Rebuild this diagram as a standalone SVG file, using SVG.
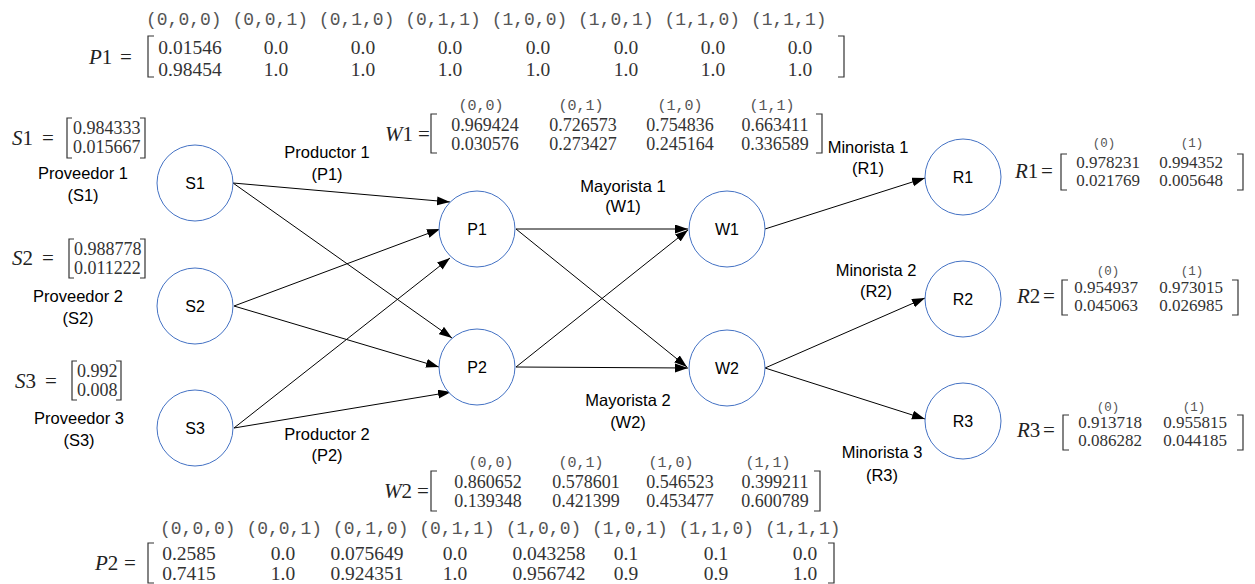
<svg xmlns="http://www.w3.org/2000/svg" width="1255" height="584" viewBox="0 0 1255 584">
  <style>
    .node circle { fill: #ffffff; stroke: #4472c4; stroke-width: 1; }
    .node text { font-family: "Liberation Sans", Arial, sans-serif; font-size: 16px; fill: #000; text-anchor: middle; }
    .lbl { font-family: "Liberation Sans", Arial, sans-serif; font-size: 16.5px; fill: #000; text-anchor: middle; }
    .edge { stroke: #000; stroke-width: 1; fill: none; marker-end: url(#arrow); }
    .eq { font-family: "Liberation Serif", "Times New Roman", serif; font-size: 21px; fill: #222; }
    .eq tspan.v { font-style: italic; }
    .num { font-family: "Liberation Serif", "Times New Roman", serif; font-size: 19.5px; fill: #333; text-anchor: middle; }
    .num18 { font-family: "Liberation Serif", "Times New Roman", serif; font-size: 18px; fill: #333; text-anchor: middle; }
    .num17 { font-family: "Liberation Serif", "Times New Roman", serif; font-size: 17px; fill: #333; text-anchor: middle; }
    .vec { font-family: "Liberation Serif", "Times New Roman", serif; font-size: 18px; fill: #333; }
    .hdr { font-family: "Liberation Mono", "Courier New", monospace; font-size: 18px; fill: #555; }
    .hdr15 { font-family: "Liberation Mono", "Courier New", monospace; font-size: 15px; fill: #555; text-anchor: middle; }
    .hdr12 { font-family: "Liberation Mono", "Courier New", monospace; font-size: 12.5px; fill: #555; text-anchor: middle; }
    .brk { stroke: #333; stroke-width: 1.2; fill: none; }
  </style>
  <defs>
    <marker id="arrow" markerUnits="userSpaceOnUse" markerWidth="14" markerHeight="10" refX="13" refY="4.5" orient="auto">
      <path d="M0,0 L13,4.5 L0,9 z" fill="#000"/>
    </marker>
  </defs>

  <rect width="1255" height="584" fill="#ffffff"/>

  <!-- connectors -->
  <g id="connectors">
    <line class="edge" x1="233" y1="183" x2="450" y2="202"/>
    <line class="edge" x1="233" y1="183" x2="452" y2="338"/>
    <line class="edge" x1="234" y1="306" x2="440" y2="229"/>
    <line class="edge" x1="234" y1="306" x2="439" y2="367"/>
    <line class="edge" x1="234" y1="428" x2="450" y2="258"/>
    <line class="edge" x1="234" y1="428" x2="451" y2="392"/>
    <line class="edge" x1="516" y1="229" x2="688" y2="229"/>
    <line class="edge" x1="516" y1="229" x2="687" y2="367"/>
    <line class="edge" x1="516" y1="367" x2="688" y2="230"/>
    <line class="edge" x1="516" y1="367" x2="688" y2="368"/>
    <line class="edge" x1="765" y1="229" x2="925" y2="178"/>
    <line class="edge" x1="765" y1="368" x2="925" y2="298"/>
    <line class="edge" x1="765" y1="368" x2="925" y2="419"/>
  </g>

  <!-- nodes -->
  <g id="S1" class="node"><circle cx="195" cy="183" r="38"/><text x="195" y="189">S1</text></g>
  <g id="S2" class="node"><circle cx="195" cy="306" r="38"/><text x="195" y="312">S2</text></g>
  <g id="S3" class="node"><circle cx="195" cy="428" r="38"/><text x="195" y="434">S3</text></g>
  <g id="P1" class="node"><circle cx="477" cy="229" r="38"/><text x="477" y="235">P1</text></g>
  <g id="P2" class="node"><circle cx="477" cy="367" r="38"/><text x="477" y="373">P2</text></g>
  <g id="W1" class="node"><circle cx="727" cy="229" r="38"/><text x="727" y="235">W1</text></g>
  <g id="W2" class="node"><circle cx="727" cy="368" r="38"/><text x="727" y="374">W2</text></g>
  <g id="R1" class="node"><circle cx="963" cy="177" r="38"/><text x="963" y="183">R1</text></g>
  <g id="R2" class="node"><circle cx="963" cy="299" r="38"/><text x="963" y="305">R2</text></g>
  <g id="R3" class="node"><circle cx="963" cy="421" r="38"/><text x="963" y="427">R3</text></g>

  <!-- role labels -->
  <g id="labels">
    <text class="lbl" x="83" y="179">Proveedor 1</text>
    <text class="lbl" x="83" y="201">(S1)</text>
    <text class="lbl" x="78" y="302">Proveedor 2</text>
    <text class="lbl" x="78" y="324">(S2)</text>
    <text class="lbl" x="79" y="424">Proveedor 3</text>
    <text class="lbl" x="79" y="446">(S3)</text>
    <text class="lbl" x="327" y="158">Productor 1</text>
    <text class="lbl" x="327" y="180">(P1)</text>
    <text class="lbl" x="327" y="440">Productor 2</text>
    <text class="lbl" x="327" y="461">(P2)</text>
    <text class="lbl" x="623" y="192">Mayorista 1</text>
    <text class="lbl" x="623" y="212">(W1)</text>
    <text class="lbl" x="628" y="406">Mayorista 2</text>
    <text class="lbl" x="628" y="428">(W2)</text>
    <text class="lbl" x="868" y="153">Minorista 1</text>
    <text class="lbl" x="868" y="174">(R1)</text>
    <text class="lbl" x="876" y="276">Minorista 2</text>
    <text class="lbl" x="876" y="297">(R2)</text>
    <text class="lbl" x="882" y="458">Minorista 3</text>
    <text class="lbl" x="882" y="481">(R3)</text>
  </g>

  <!-- P1 table -->
  <g id="P1-table">
    <text class="hdr" x="146" y="25" xml:space="preserve">(0,0,0) (0,0,1) (0,1,0) (0,1,1) (1,0,0) (1,0,1) (1,1,0) (1,1,1)</text>
    <text class="eq" y="64"><tspan class="v" x="89">P</tspan><tspan>1</tspan><tspan x="120">=</tspan></text>
    <path class="brk" d="M154,36 H148 V77 H154"/>
    <path class="brk" d="M838,36 H844 V77 H838"/>
    <text class="num" y="54"><tspan x="190">0.01546</tspan><tspan x="276">0.0</tspan><tspan x="363">0.0</tspan><tspan x="450">0.0</tspan><tspan x="538">0.0</tspan><tspan x="626">0.0</tspan><tspan x="713">0.0</tspan><tspan x="800">0.0</tspan></text>
    <text class="num" y="76"><tspan x="190">0.98454</tspan><tspan x="276">1.0</tspan><tspan x="363">1.0</tspan><tspan x="450">1.0</tspan><tspan x="538">1.0</tspan><tspan x="626">1.0</tspan><tspan x="713">1.0</tspan><tspan x="800">1.0</tspan></text>
  </g>

  <!-- P2 table -->
  <g id="P2-table">
    <text class="hdr" x="160" y="534" xml:space="preserve">(0,0,0) (0,0,1) (0,1,0) (0,1,1) (1,0,0) (1,0,1) (1,1,0) (1,1,1)</text>
    <text class="eq" y="570"><tspan class="v" x="95">P</tspan><tspan>2</tspan><tspan x="124">=</tspan></text>
    <path class="brk" d="M154,543 H148 V583 H154"/>
    <path class="brk" d="M828,543 H834 V583 H828"/>
    <text class="num" y="560"><tspan x="189">0.2585</tspan><tspan x="283">0.0</tspan><tspan x="367">0.075649</tspan><tspan x="455">0.0</tspan><tspan x="549">0.043258</tspan><tspan x="626">0.1</tspan><tspan x="716">0.1</tspan><tspan x="805">0.0</tspan></text>
    <text class="num" y="580"><tspan x="189">0.7415</tspan><tspan x="283">1.0</tspan><tspan x="367">0.924351</tspan><tspan x="455">1.0</tspan><tspan x="549">0.956742</tspan><tspan x="626">0.9</tspan><tspan x="716">0.9</tspan><tspan x="805">1.0</tspan></text>
  </g>

  <!-- supplier vectors -->
  <g id="S1-vec">
    <text class="eq" y="145"><tspan class="v" x="12">S</tspan><tspan>1</tspan><tspan x="42">=</tspan></text>
    <path class="brk" d="M72,118 H67 V158 H72"/>
    <path class="brk" d="M140,118 H145 V158 H140"/>
    <text class="vec" x="73" y="134">0.984333</text>
    <text class="vec" x="73" y="153">0.015667</text>
  </g>
  <g id="S2-vec">
    <text class="eq" y="265"><tspan class="v" x="12">S</tspan><tspan>2</tspan><tspan x="42">=</tspan></text>
    <path class="brk" d="M74,239 H69 V278 H74"/>
    <path class="brk" d="M140,239 H145 V278 H140"/>
    <text class="vec" x="74" y="255">0.988778</text>
    <text class="vec" x="74" y="274">0.011222</text>
  </g>
  <g id="S3-vec">
    <text class="eq" y="388"><tspan class="v" x="15">S</tspan><tspan>3</tspan><tspan x="45">=</tspan></text>
    <path class="brk" d="M77,361 H72 V400 H77"/>
    <path class="brk" d="M116,361 H121 V400 H116"/>
    <text class="vec" x="77" y="377">0.992</text>
    <text class="vec" x="77" y="396">0.008</text>
  </g>

  <!-- wholesaler tables -->
  <g id="W1-table">
    <text class="hdr15" y="110"><tspan x="481">(0,0)</tspan><tspan x="581">(0,1)</tspan><tspan x="680">(1,0)</tspan><tspan x="772">(1,1)</tspan></text>
    <text class="eq" y="141"><tspan class="v" x="385">W</tspan><tspan>1</tspan><tspan x="418">=</tspan></text>
    <path class="brk" d="M437,114 H431 V153 H437"/>
    <path class="brk" d="M816,114 H822 V153 H816"/>
    <text class="num18" y="131"><tspan x="485">0.969424</tspan><tspan x="583">0.726573</tspan><tspan x="680">0.754836</tspan><tspan x="775">0.663411</tspan></text>
    <text class="num18" y="150"><tspan x="485">0.030576</tspan><tspan x="583">0.273427</tspan><tspan x="680">0.245164</tspan><tspan x="775">0.336589</tspan></text>
  </g>
  <g id="W2-table">
    <text class="hdr15" y="467"><tspan x="491">(0,0)</tspan><tspan x="581">(0,1)</tspan><tspan x="671">(1,0)</tspan><tspan x="768">(1,1)</tspan></text>
    <text class="eq" y="498"><tspan class="v" x="384">W</tspan><tspan>2</tspan><tspan x="417">=</tspan></text>
    <path class="brk" d="M437,471 H431 V511 H437"/>
    <path class="brk" d="M814,471 H820 V511 H814"/>
    <text class="num18" y="488"><tspan x="488">0.860652</tspan><tspan x="586">0.578601</tspan><tspan x="680">0.546523</tspan><tspan x="775">0.399211</tspan></text>
    <text class="num18" y="507"><tspan x="488">0.139348</tspan><tspan x="586">0.421399</tspan><tspan x="680">0.453477</tspan><tspan x="775">0.600789</tspan></text>
  </g>

  <!-- retailer tables -->
  <g id="R1-table">
    <text class="hdr12" y="147"><tspan x="1104">(0)</tspan><tspan x="1192">(1)</tspan></text>
    <text class="eq" y="178"><tspan class="v" x="1015">R</tspan><tspan>1</tspan><tspan x="1041">=</tspan></text>
    <path class="brk" d="M1067,154 H1061 V190 H1067"/>
    <path class="brk" d="M1237,154 H1243 V190 H1237"/>
    <text class="num17" y="168"><tspan x="1108">0.978231</tspan><tspan x="1191">0.994352</tspan></text>
    <text class="num17" y="186"><tspan x="1108">0.021769</tspan><tspan x="1191">0.005648</tspan></text>
  </g>
  <g id="R2-table">
    <text class="hdr12" y="275"><tspan x="1108">(0)</tspan><tspan x="1192">(1)</tspan></text>
    <text class="eq" y="303"><tspan class="v" x="1017">R</tspan><tspan>2</tspan><tspan x="1043">=</tspan></text>
    <path class="brk" d="M1068,280 H1062 V315 H1068"/>
    <path class="brk" d="M1232,280 H1238 V315 H1232"/>
    <text class="num17" y="293"><tspan x="1106">0.954937</tspan><tspan x="1191">0.973015</tspan></text>
    <text class="num17" y="311"><tspan x="1106">0.045063</tspan><tspan x="1191">0.026985</tspan></text>
  </g>
  <g id="R3-table">
    <text class="hdr12" y="411"><tspan x="1108">(0)</tspan><tspan x="1194">(1)</tspan></text>
    <text class="eq" y="437"><tspan class="v" x="1017">R</tspan><tspan>3</tspan><tspan x="1043">=</tspan></text>
    <path class="brk" d="M1069,415 H1063 V450 H1069"/>
    <path class="brk" d="M1237,415 H1243 V450 H1237"/>
    <text class="num17" y="428"><tspan x="1110">0.913718</tspan><tspan x="1195">0.955815</tspan></text>
    <text class="num17" y="446"><tspan x="1110">0.086282</tspan><tspan x="1195">0.044185</tspan></text>
  </g>
</svg>
